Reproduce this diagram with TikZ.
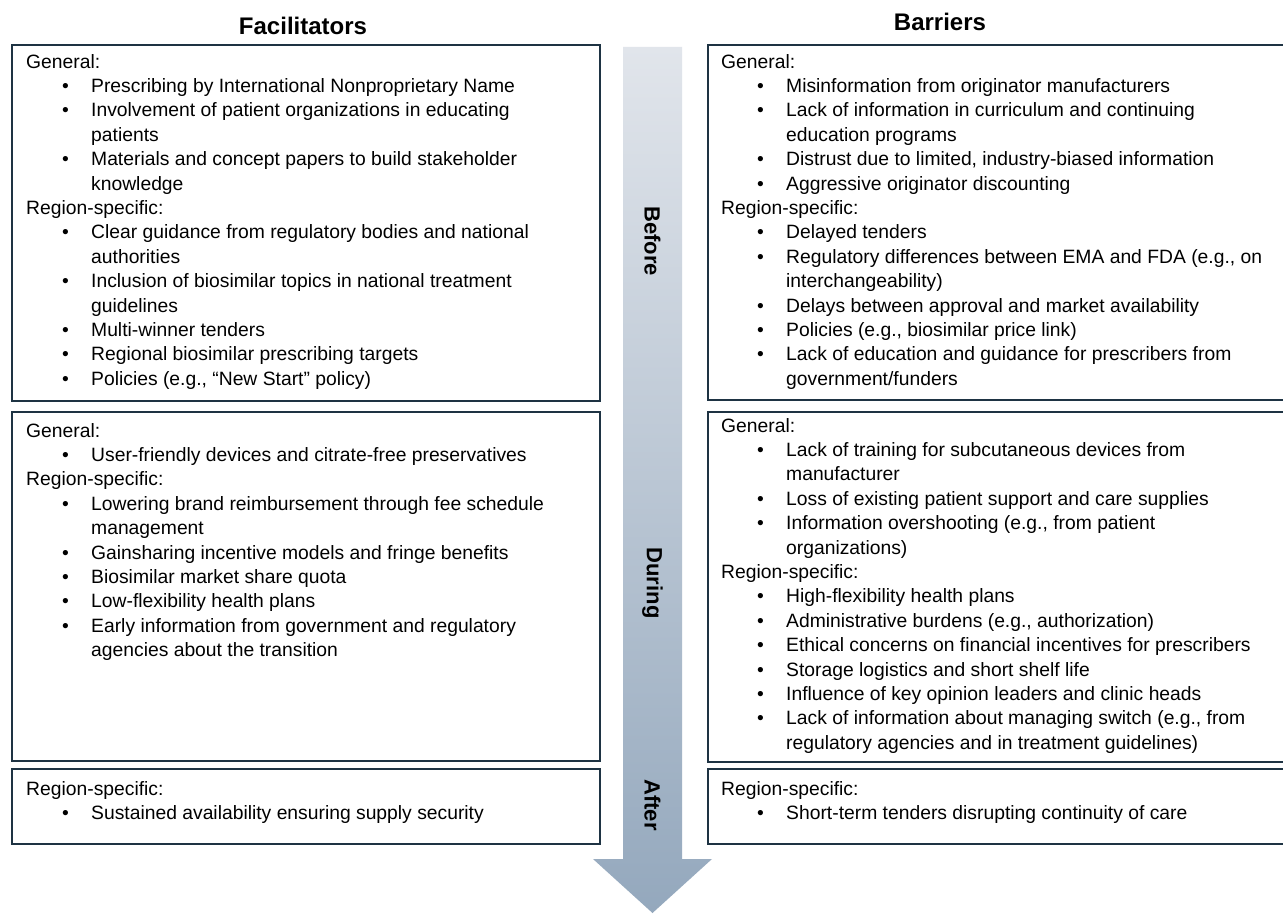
\documentclass[tikz,border=0pt]{standalone}
\usepackage{fontspec}
\setmainfont{Liberation Sans}
\definecolor{boxline}{HTML}{1E3343}
\definecolor{arrowtop}{HTML}{E1E5EB}
\definecolor{arrowbot}{HTML}{94A8BD}
% bullet line and continuation line of a list
\newcommand\bitem[1]{\hspace*{36pt}\makebox[29pt][l]{\textbullet}#1}
\newcommand\bcont[1]{\hspace*{65pt}#1}
\begin{document}
\begin{tikzpicture}[x=1pt,y=-1pt,
  panel/.style={draw=boxline, line width=2pt, fill=white, anchor=north west, inner sep=0pt},
  txt/.style={anchor=north west, inner sep=0pt, align=left, font=\fontsize{19.3}{24.4}\selectfont},
  heading/.style={font=\fontsize{24}{26}\selectfont\bfseries, inner sep=0pt},
  phase/.style={font=\fontsize{22}{24}\selectfont\bfseries, rotate=-90, inner sep=0pt}]
\clip (0,0) rectangle (1283,915);
\fill[white] (0,0) rectangle (1283,915);

% time arrow
\shade[top color=arrowtop, bottom color=arrowbot]
  (623,47) -- (682,47) -- (682,859) -- (712,859) -- (652.5,913) -- (593,859) -- (623,859) -- cycle;
\node[phase] (before) at (652.5,241) {Before};
\node[phase] (during) at (652.5,583) {During};
\node[phase] (after) at (652.5,805) {After};

% column headings
\node[heading] (fachead) at (303,26) {Facilitators};
\node[heading] (barhead) at (940,22) {Barriers};

% panels
\node[panel, minimum width=588pt, minimum height=356pt] (fac1) at (11,44) {};
\node[panel, minimum width=588pt, minimum height=349pt] (fac2) at (11,411) {};
\node[panel, minimum width=588pt, minimum height=75pt] (fac3) at (11,768) {};
\node[panel, minimum width=600pt, minimum height=355pt] (bar1) at (707,44) {};
\node[panel, minimum width=600pt, minimum height=350pt] (bar2) at (707,411) {};
\node[panel, minimum width=600pt, minimum height=75pt] (bar3) at (707,768) {};

% facilitators
\node[txt] (fac1t) at (26,54) {General:\\
\bitem{Prescribing by International Nonproprietary Name}\\
\bitem{Involvement of patient organizations in educating}\\
\bcont{patients}\\
\bitem{Materials and concept papers to build stakeholder}\\
\bcont{knowledge}\\
Region-specific:\\
\bitem{Clear guidance from regulatory bodies and national}\\
\bcont{authorities}\\
\bitem{Inclusion of biosimilar topics in national treatment}\\
\bcont{guidelines}\\
\bitem{Multi-winner tenders}\\
\bitem{Regional biosimilar prescribing targets}\\
\bitem{Policies (e.g., “New Start” policy)}};

\node[txt] (fac2t) at (26,423) {General:\\
\bitem{User-friendly devices and citrate-free preservatives}\\
Region-specific:\\
\bitem{Lowering brand reimbursement through fee schedule}\\
\bcont{management}\\
\bitem{Gainsharing incentive models and fringe benefits}\\
\bitem{Biosimilar market share quota}\\
\bitem{Low-flexibility health plans}\\
\bitem{Early information from government and regulatory}\\
\bcont{agencies about the transition}};

\node[txt] (fac3t) at (26,781) {Region-specific:\\
\bitem{Sustained availability ensuring supply security}};

% barriers
\node[txt] (bar1t) at (721,54) {General:\\
\bitem{Misinformation from originator manufacturers}\\
\bitem{Lack of information in curriculum and continuing}\\
\bcont{education programs}\\
\bitem{Distrust due to limited, industry-biased information}\\
\bitem{Aggressive originator discounting}\\
Region-specific:\\
\bitem{Delayed tenders}\\
\bitem{Regulatory differences between EMA and FDA (e.g., on}\\
\bcont{interchangeability)}\\
\bitem{Delays between approval and market availability}\\
\bitem{Policies (e.g., biosimilar price link)}\\
\bitem{Lack of education and guidance for prescribers from}\\
\bcont{government/funders}};

\node[txt] (bar2t) at (721,418) {General:\\
\bitem{Lack of training for subcutaneous devices from}\\
\bcont{manufacturer}\\
\bitem{Loss of existing patient support and care supplies}\\
\bitem{Information overshooting (e.g., from patient}\\
\bcont{organizations)}\\
Region-specific:\\
\bitem{High-flexibility health plans}\\
\bitem{Administrative burdens (e.g., authorization)}\\
\bitem{Ethical concerns on financial incentives for prescribers}\\
\bitem{Storage logistics and short shelf life}\\
\bitem{Influence of key opinion leaders and clinic heads}\\
\bitem{Lack of information about managing switch (e.g., from}\\
\bcont{regulatory agencies and in treatment guidelines)}};

\node[txt] (bar3t) at (721,781) {Region-specific:\\
\bitem{Short-term tenders disrupting continuity of care}};
\end{tikzpicture}
\end{document}
